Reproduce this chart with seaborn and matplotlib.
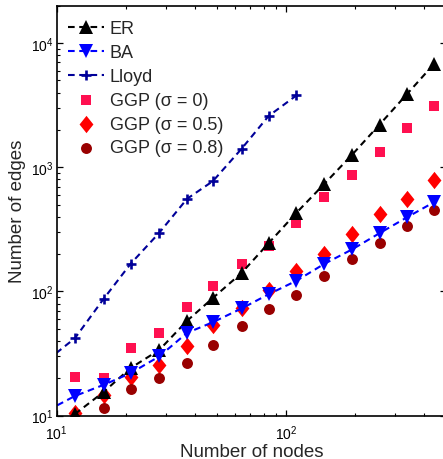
import numpy as np
import pandas as pd
import matplotlib
matplotlib.use("Agg")
import matplotlib.pyplot as plt
from matplotlib.markers import MarkerStyle
from matplotlib.transforms import Affine2D
import seaborn as sns

# ---- data ----
nodes = [12, 16, 21, 28, 37, 48, 64, 84, 111, 147, 194, 256, 338, 443]
er_edges = [10.3, 15.5, 24.2, 33.8, 58, 88.7, 141, 245, 430, 736, 1260, 2210, 3910, 6820]
ba_nodes = [9.1, 12, 16, 21, 28, 37, 48, 64, 84, 111, 147, 194, 256, 338, 443]
ba_edges = [11.0, 14.4, 17.7, 22, 30, 46.4, 56.6, 73, 95, 122, 167, 218, 295, 397, 525]
lloyd_nodes = [9.1, 12, 16, 21, 28, 37, 48, 64, 84, 111]
lloyd_edges = [28, 42, 87, 167, 297, 557, 774, 1410, 2590, 3790]
ggp0_edges = [20.6, 20.0, 34.9, 46, 74.7, 110, 167, 234, 357, 575, 870, 1340, 2070, 3090]
ggp05_edges = [10.45, 14.8, 20.4, 25.8, 36.6, 53.8, 73, 103, 145, 201, 288, 417, 557, 792]
ggp08_edges = [None, 11.5, 16.4, 20.0, 26.6, 37.3, 53, 72.5, 94.4, 134, 183, 246, 336, 452]

labels = ["ER", "BA", "Lloyd", "GGP (σ = 0)", "GGP (σ = 0.5)", "GGP (σ = 0.8)"]

sns.set_theme(style="white")
plt.rcParams["font.family"] = ["Liberation Sans", "DejaVu Sans"]
plt.rcParams["mathtext.fontset"] = "custom"
plt.rcParams["mathtext.rm"] = "Liberation Sans"
plt.rcParams["mathtext.it"] = "Liberation Sans:italic"

fig = plt.figure(figsize=(4.43, 4.60), dpi=100)
ax = fig.add_axes([56.7 / 443, 1 - 416.7 / 460, 389.6 / 443, 410 / 460])

dash = (0, (3.2, 2.2))
lw = 1.5


def style_last_line(color, marker, ms, mew):
    ln = ax.lines[-1]
    ln.set_marker(marker)
    ln.set_markersize(ms)
    ln.set_markeredgewidth(mew)
    ln.set_markeredgecolor(color)
    ln.set_markerfacecolor(color)
    ln.set_linestyle(dash)
    ln.set_linewidth(lw)
    ln.set_color(color)


sns.lineplot(x=nodes, y=er_edges, ax=ax, color="black", label=labels[0], sort=False)
style_last_line("black", "^", 9.5, 0)
sns.lineplot(x=ba_nodes, y=ba_edges, ax=ax, color="#0000FF", label=labels[1], sort=False)
style_last_line("#0000FF", "v", 9.5, 0)
sns.lineplot(x=lloyd_nodes, y=lloyd_edges, ax=ax, color="#000099", label=labels[2], sort=False)
style_last_line("#000099", "+", 6.5, 1.9)

diamond = MarkerStyle("D", transform=Affine2D().scale(0.8, 1.0))

df = pd.DataFrame({"n": nodes, "g0": ggp0_edges, "g5": ggp05_edges, "g8": ggp08_edges})
sns.scatterplot(data=df, x="n", y="g0", ax=ax, color="#FF1050", marker="s", s=52,
                linewidth=0, label=labels[3])
sns.scatterplot(data=df, x="n", y="g5", ax=ax, color="#FF0000", marker=diamond, s=78,
                linewidth=0, label=labels[4])
sns.scatterplot(data=df, x="n", y="g8", ax=ax, color="#990000", marker="o", s=62,
                linewidth=0, label=labels[5])

ax.set_xscale("log")
ax.set_yscale("log")
ax.set_xlim(10, 500)
ax.set_ylim(10, 2e4)

ax.set_xlabel("Number of nodes", fontsize=13.5, labelpad=1)
ax.set_ylabel("Number of edges", fontsize=13.5, labelpad=4)

ax.tick_params(which="both", direction="in", top=True, right=True, bottom=True, left=True,
               labelsize=10, colors="black")
ax.tick_params(which="major", length=4, width=0.9)
ax.tick_params(which="minor", length=2.2, width=0.8)
ax.tick_params(axis="x", which="major", pad=5.5)
ax.tick_params(axis="y", which="major", pad=2)
ax.xaxis.set_minor_locator(matplotlib.ticker.LogLocator(base=10, subs=np.arange(2, 10)))
ax.yaxis.set_minor_locator(matplotlib.ticker.LogLocator(base=10, subs=np.arange(2, 10)))
ax.xaxis.set_minor_formatter(matplotlib.ticker.NullFormatter())
ax.yaxis.set_minor_formatter(matplotlib.ticker.NullFormatter())
for s in ax.spines.values():
    s.set_visible(True)
    s.set_color("black")
    s.set_linewidth(1.2)
ax.grid(False)

leg = ax.legend(loc="upper left", bbox_to_anchor=(0.004, 1 - 4.5 / 410), frameon=False,
                fontsize=13, handlelength=2.0, handletextpad=0.3, labelspacing=0.38,
                borderaxespad=0.25, borderpad=0.3, numpoints=1, scatterpoints=1)

fig.savefig("out.png", dpi=100)
